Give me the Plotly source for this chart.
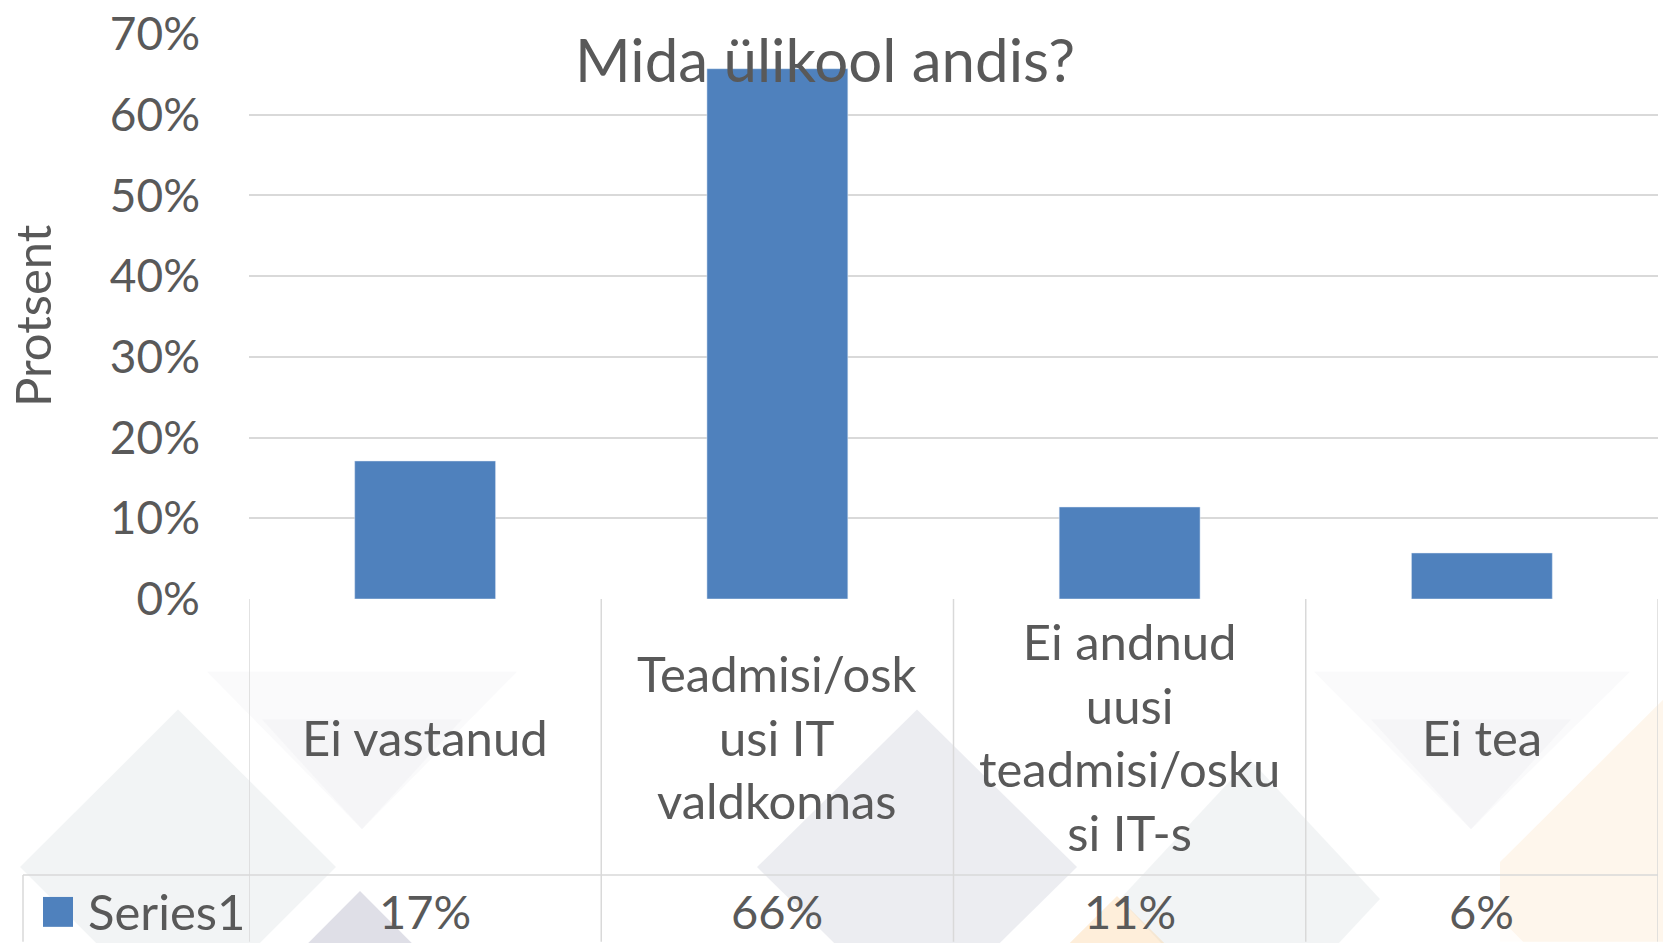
import plotly.graph_objects as go

# ---- data ----
categories = ["Ei vastanud", "Teadmisi/oskusi IT valdkonnas", "Ei andnud uusi teadmisi/oskusi IT-s", "Ei tea"]
category_labels = ["Ei vastanud", "Teadmisi/osk<br>usi IT<br>valdkonnas", "Ei andnud<br>uusi<br>teadmisi/osku<br>si IT-s", "Ei tea"]
values = [17.1, 65.7, 11.4, 5.7]
series_name = "Series1"
y_ticks = [0, 10, 20, 30, 40, 50, 60, 70]
y_tick_labels = ["0%", "10%", "20%", "30%", "40%", "50%", "60%", "70%"]
title_text = "Mida ülikool andis?"
y_title = "Protsent"

W, H = 1663, 943
L, R, T, B = 249, 1658, 32, 599   # plot area pixel box
FONT = "Lato"
TXT = "#595959"
GRID = "#D9D9D9"
BAR = "#4F81BD"

def px(x):
    return (x - L) / (R - L)

def py(y):
    return (B - y) / (B - T)

fig = go.Figure()
fig.add_trace(go.Bar(x=categories, y=values, name=series_name, marker_color=BAR,
                     width=0.4, showlegend=False))

shapes = []
# faint background decoration
def poly(points, color):
    path = "M " + " L ".join(f"{px(x)} {py(y)}" for x, y in points) + " Z"
    return dict(type="path", xref="paper", yref="paper", path=path, fillcolor=color,
                line=dict(width=0), layer="below")

def diamond(cx, cy, hw, hh, color):
    return poly([(cx - hw, cy), (cx, cy - hh), (cx + hw, cy), (cx, cy + hh)], color)

shapes += [
    diamond(178, 868, 158, 158, "rgba(175,185,195,0.16)"),
    poly([(207, 672), (517, 672), (362, 830)], "rgba(190,195,205,0.08)"),
    poly([(262, 720), (462, 720), (362, 830)], "rgba(190,195,205,0.08)"),
    poly([(1314, 672), (1630, 672), (1471, 830)], "rgba(190,195,205,0.08)"),
    poly([(1371, 720), (1571, 720), (1471, 830)], "rgba(190,195,205,0.08)"),
    diamond(917, 868, 160, 158, "rgba(150,155,180,0.18)"),
    diamond(1250, 900, 130, 140, "rgba(175,185,195,0.16)"),
    poly([(360, 892), (470, 1003), (250, 1003)], "rgba(140,140,170,0.28)"),
    poly([(1117, 897), (1180, 960), (1054, 960)], "rgba(252,205,150,0.35)"),
    poly([(1663, 700), (1663, 943), (1500, 943), (1500, 863)], "rgba(252,215,170,0.22)"),
    poly([(1471, 890), (1530, 950), (1412, 950)], "rgba(255,255,255,0.8)"),
]

# data table lines
line = dict(color=GRID, width=1.5)
shapes.append(dict(type="line", xref="paper", yref="paper", x0=px(23), x1=px(R), y0=py(876), y1=py(876), line=line))
shapes.append(dict(type="line", xref="paper", yref="paper", x0=px(23), x1=px(23), y0=py(876), y1=py(H), line=line))
for i in range(len(categories) + 1):
    shapes.append(dict(type="line", xref="x", yref="paper", x0=i - 0.5, x1=i - 0.5,
                       y0=0, y1=py(H), line=line))
# legend key square
shapes.append(dict(type="rect", xref="paper", yref="paper", x0=px(43), x1=px(73),
                   y0=py(928), y1=py(898), fillcolor=BAR, line=dict(width=0)))

annotations = []
for c, lab, v in zip(categories, category_labels, values):
    annotations.append(dict(x=c, y=py(737), xref="x", yref="paper", text=lab, showarrow=False,
                            font=dict(family=FONT, size=49, color=TXT), align="center",
                            xanchor="center", yanchor="middle"))
    annotations.append(dict(x=c, y=py(912), xref="x", yref="paper", text=f"{round(v)}%", showarrow=False,
                            font=dict(family=FONT, size=47, color=TXT), xanchor="center", yanchor="middle"))
annotations.append(dict(x=px(86), y=py(912), xref="paper", yref="paper", text=series_name, showarrow=False,
                        font=dict(family=FONT, size=49, color=TXT), xanchor="left", yanchor="middle"))
annotations.append(dict(x=px(32), y=py(315), xref="paper", yref="paper", text=y_title, showarrow=False,
                        textangle=-90, font=dict(family=FONT, size=49, color=TXT),
                        xanchor="center", yanchor="middle"))
annotations.append(dict(x=px(825), y=py(57), xref="paper", yref="paper", text=title_text, showarrow=False,
                        font=dict(family=FONT, size=60, color=TXT), xanchor="center", yanchor="middle"))

fig.update_layout(
    width=W, height=H, autosize=False,
    margin=dict(l=L, r=W - R, t=T, b=H - B, pad=0),
    paper_bgcolor="white", plot_bgcolor="rgba(0,0,0,0)",
    shapes=shapes, annotations=annotations,
    bargap=0.6,
    xaxis=dict(range=[-0.5, len(categories) - 0.5], showticklabels=False, showgrid=False,
               zeroline=False, showline=False, fixedrange=True),
    yaxis=dict(range=[0, 70], tickvals=y_ticks, ticktext=y_tick_labels, showgrid=True,
               gridcolor=GRID, gridwidth=1.5, zeroline=False, showline=False,
               tickfont=dict(family=FONT, size=46, color=TXT), ticklabelstandoff=48,
               fixedrange=True),
)

fig.write_html("out.html", config={"displayModeBar": False},
               post_script="document.body.style.margin='0';document.body.style.overflow='hidden';")
